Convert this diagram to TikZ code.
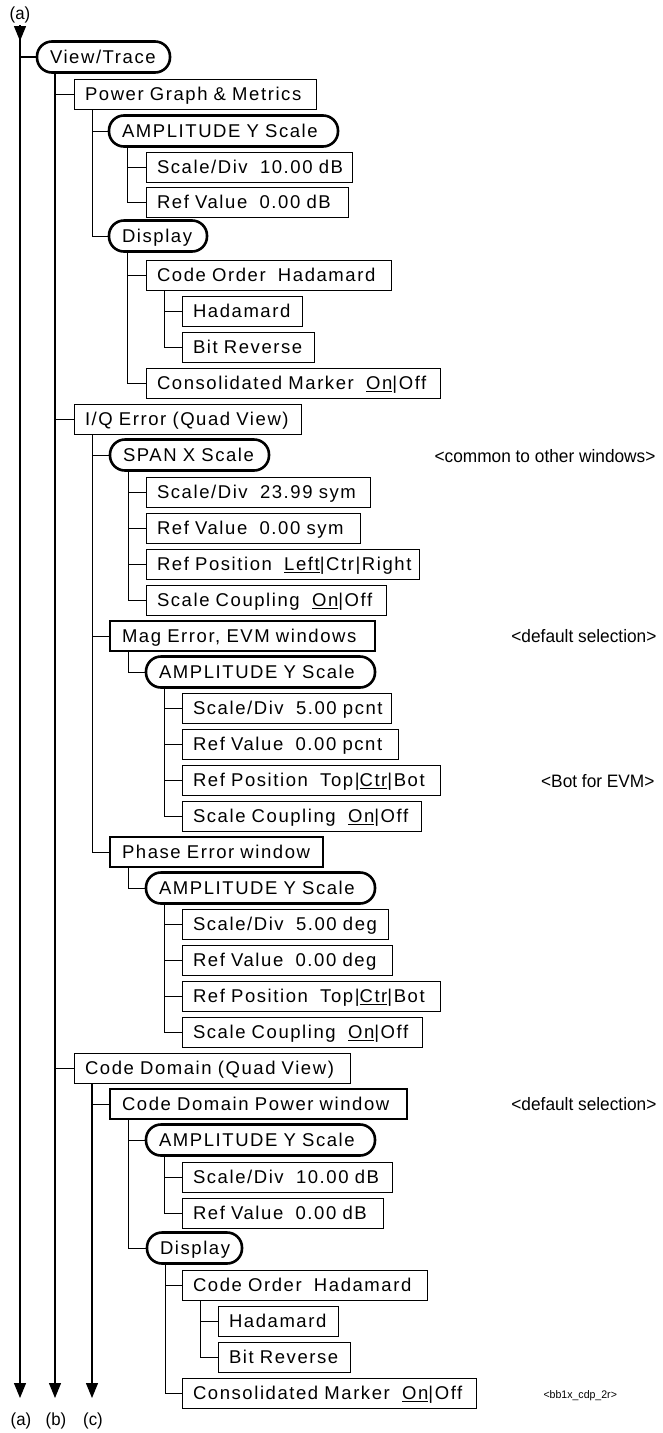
\documentclass[tikz,border=0pt]{standalone}
\usepackage{fontspec}
\setmainfont{Liberation Sans}
\newfontfamily\bxfont{Liberation Sans}[LetterSpace=8.5, WordSpace=1.5]
\newfontfamily\anfont{Liberation Sans}[FakeStretch=0.96]
\usetikzlibrary{arrows.meta}
\tikzset{
 bxbase/.style={anchor=west, outer sep=0pt, minimum height=30pt, inner ysep=0pt, align=left,
   text height=13pt, text depth=0pt, font=\bxfont\fontsize{18.5pt}{21pt}\selectfont},
 rbox/.style={bxbase, draw, line width=1pt, inner xsep=11pt},
 tbox/.style={bxbase, draw, line width=2pt, inner xsep=12pt},
 obox/.style={bxbase, draw, line width=2.6pt, inner xsep=13pt, rounded corners=15pt, minimum height=31pt},
 conn/.style={line width=1pt},
 trunk/.style={line width=1.2pt},
 arrowend/.style={-{Triangle[width=12pt,length=15pt]}},
 note/.style={anchor=east, font=\anfont\fontsize{18pt}{20pt}\selectfont},
 lbl/.style={font=\anfont\fontsize{17.5pt}{20pt}\selectfont},
}
\begin{document}
\begin{tikzpicture}[x=1pt,y=-1pt]
\useasboundingbox (0,0) rectangle (663,1433);
% labels and trunk coordinates
\node[lbl] (la) at (20,15) {(a)};
\node[lbl] (lba) at (21,1421) {(a)};
\node[lbl] (lbb) at (56,1421) {(b)};
\node[lbl] (lbc) at (93,1421) {(c)};
\coordinate (aTop) at (20,25);
\coordinate (aTip) at (20,41);
\coordinate (aEnd) at (20,1398);
\coordinate (bEnd) at (55,1398);
\coordinate (cEnd) at (92,1398);
% nodes
\node[obox, text width=107pt] (vt) at (37,57) {\mbox{View/Trace}};
\node[rbox, text width=220pt] (pgm) at (74,94) {\mbox{Power Graph \& Metrics}};
\node[obox, text width=203pt] (amp1) at (109,131) {\mbox{AMPLITUDE Y Scale}};
\node[rbox, text width=184pt] (sd1) at (146,167) {\mbox{Scale/Div~~10.00 dB}};
\node[rbox, text width=180pt] (rv1) at (146,202) {\mbox{Ref Value~~0.00 dB}};
\node[obox, text width=72pt] (disp1) at (109,236) {\mbox{Display}};
\node[rbox, text width=223pt] (co1) at (146,275) {\mbox{Code Order~~Hadamard}};
\node[rbox, text width=98pt] (had1) at (182,311) {\mbox{Hadamard}};
\node[rbox, text width=110pt] (br1) at (182,347) {\mbox{Bit Reverse}};
\node[rbox, text width=272pt] (cm1) at (146,383) {\mbox{Consolidated Marker~~\underline{On}|Off}};
\node[rbox, text width=205pt] (iq) at (74,419) {\mbox{I/Q Error (Quad View)}};
\node[obox, text width=133pt] (span) at (110,455) {\mbox{SPAN X Scale}};
\node[rbox, text width=202pt] (sd2) at (146,492) {\mbox{Scale/Div~~23.99 sym}};
\node[rbox, text width=192pt] (rv2) at (146,528) {\mbox{Ref Value~~0.00 sym}};
\node[rbox, text width=251pt] (rp2) at (146,564) {\mbox{Ref Position~~\underline{Left}|Ctr|Right}};
\node[rbox, text width=218pt] (sc2) at (146,600) {\mbox{Scale Coupling~~\underline{On}|Off}};
\node[tbox, text width=241pt] (mag) at (110,636) {\mbox{Mag Error, EVM windows}};
\node[obox, text width=203pt] (amp2) at (146,672) {\mbox{AMPLITUDE Y Scale}};
\node[rbox, text width=187pt] (sd3) at (182,708) {\mbox{Scale/Div~~5.00 pcnt}};
\node[rbox, text width=194pt] (rv3) at (182,744) {\mbox{Ref Value~~0.00 pcnt}};
\node[rbox, text width=236pt] (rp3) at (182,780) {\mbox{Ref Position~~Top|\underline{Ctr}|Bot}};
\node[rbox, text width=217pt] (sc3) at (182,816) {\mbox{Scale Coupling~~\underline{On}|Off}};
\node[tbox, text width=189pt] (phe) at (110,852) {\mbox{Phase Error window}};
\node[obox, text width=203pt] (amp3) at (146,888) {\mbox{AMPLITUDE Y Scale}};
\node[rbox, text width=184pt] (sd4) at (182,924) {\mbox{Scale/Div~~5.00 deg}};
\node[rbox, text width=188pt] (rv4) at (182,960) {\mbox{Ref Value~~0.00 deg}};
\node[rbox, text width=236pt] (rp4) at (182,996) {\mbox{Ref Position~~Top|\underline{Ctr}|Bot}};
\node[rbox, text width=218pt] (sc4) at (182,1032) {\mbox{Scale Coupling~~\underline{On}|Off}};
\node[rbox, text width=254pt] (cd) at (74,1068) {\mbox{Code Domain (Quad View)}};
\node[tbox, text width=273pt] (cdp) at (110,1104) {\mbox{Code Domain Power window}};
\node[obox, text width=203pt] (amp4) at (146,1140) {\mbox{AMPLITUDE Y Scale}};
\node[rbox, text width=188pt] (sd5) at (182,1177) {\mbox{Scale/Div~~10.00 dB}};
\node[rbox, text width=179pt] (rv5) at (182,1213) {\mbox{Ref Value~~0.00 dB}};
\node[obox, text width=69pt] (disp2) at (147,1248) {\mbox{Display}};
\node[rbox, text width=223pt] (co2) at (182,1285) {\mbox{Code Order~~Hadamard}};
\node[rbox, text width=98pt] (had2) at (218,1321) {\mbox{Hadamard}};
\node[rbox, text width=110pt] (br2) at (218,1357) {\mbox{Bit Reverse}};
\node[rbox, text width=272pt] (cm2) at (182,1393) {\mbox{Consolidated Marker~~\underline{On}|Off}};
% annotations
\node[note] (n1) at (659,456) {<common to other windows>};
\node[note] (n2) at (660,636) {<default selection>};
\node[note] (n3) at (658,781) {<Bot for EVM>};
\node[note] (n4) at (660,1104) {<default selection>};
\node[anchor=west, font=\anfont\fontsize{11pt}{13pt}\selectfont] (n5) at (540,1396) {<bb1x\_cdp\_2r>};
% trunks
\draw[trunk] (aTop) |- (vt.west);
\draw[trunk,arrowend] (aTop) -- (aTip);
\draw[trunk,arrowend] (aTop) -- (aEnd);
\draw[trunk,arrowend] ([xshift=18pt]vt.south west) -- (bEnd);
\draw[trunk,arrowend] ([xshift=18pt]cd.south west) -- (cEnd);
% tree connectors
\foreach \p/\c in {vt/pgm, vt/iq, vt/cd, pgm/amp1, pgm/disp1, amp1/sd1, amp1/rv1,
  disp1/co1, disp1/cm1, co1/had1, co1/br1, iq/span, iq/mag, iq/phe,
  span/sd2, span/rv2, span/rp2, span/sc2, mag/amp2, amp2/sd3, amp2/rv3, amp2/rp3, amp2/sc3,
  phe/amp3, amp3/sd4, amp3/rv4, amp3/rp4, amp3/sc4, cd/cdp, cdp/amp4, cdp/disp2,
  amp4/sd5, amp4/rv5, disp2/co2, disp2/cm2, co2/had2, co2/br2}
  \draw[conn] ([xshift=18pt]\p.south west) |- (\c.west);
\end{tikzpicture}
\end{document}
